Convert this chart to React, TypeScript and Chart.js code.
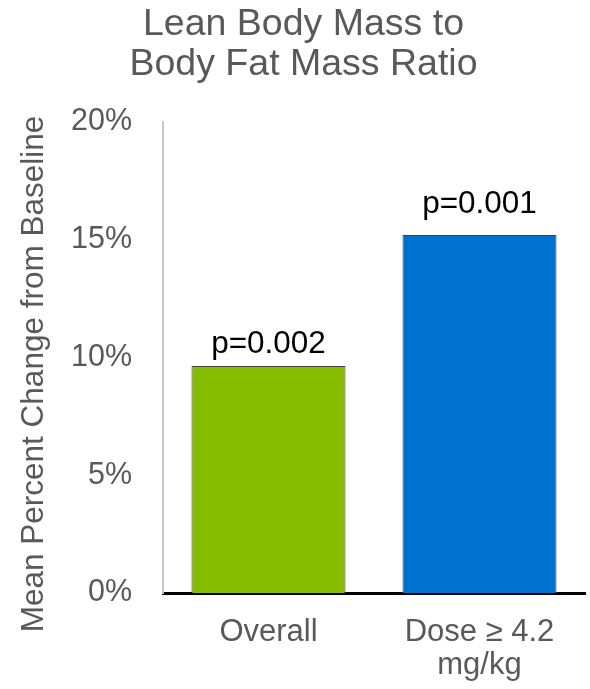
import React, { useEffect, useRef } from "react";
import { Chart, registerables } from "chart.js";

Chart.register(...registerables);

const categories: (string | string[])[] = ["Overall", ["Dose \u2265 4.2", "mg/kg"]];
const values: number[] = [9.64, 15.2];
const pLabels: string[] = ["p=0.002", "p=0.001"];
const barColors: string[] = ["#86bc00", "#0071ce"];
const titleLines: string[] = ["Lean Body Mass to", "Body Fat Mass Ratio"];
const yAxisTitle = "Mean Percent Change from Baseline";

const FONT = "'Liberation Sans', Arial, sans-serif";
const GRAY = "#595959";

const pLabelPlugin = {
  id: "pLabels",
  afterDatasetsDraw(chart: any, _args: any, opts: any) {
    const { ctx } = chart;
    const meta = chart.getDatasetMeta(0);
    ctx.save();
    ctx.font = `31.5px ${FONT}`;
    ctx.fillStyle = "#000000";
    ctx.textAlign = "center";
    ctx.textBaseline = "alphabetic";
    meta.data.forEach((bar: any, i: number) => {
      const off = (opts.offsets && opts.offsets[i]) || 14;
      ctx.fillText(pLabels[i], bar.x, bar.y - off);
    });
    ctx.restore();
  },
};

const yTitlePlugin = {
  id: "yTitle",
  afterDraw(chart: any, _args: any, opts: any) {
    const { ctx } = chart;
    ctx.save();
    ctx.translate(opts.x, opts.y);
    ctx.rotate(-Math.PI / 2);
    ctx.font = `31.5px ${FONT}`;
    ctx.fillStyle = GRAY;
    ctx.textAlign = "center";
    ctx.textBaseline = "middle";
    ctx.fillText(yAxisTitle, 0, 0);
    ctx.restore();
  },
};

export default function App() {
  const ref = useRef<HTMLCanvasElement | null>(null);

  useEffect(() => {
    if (!ref.current) return;
    const chart = new Chart(ref.current, {
      type: "bar",
      data: {
        labels: categories as any,
        datasets: [
          {
            data: values,
            backgroundColor: barColors,
            borderColor: "#404040",
            borderWidth: 1,
            categoryPercentage: 1,
            barPercentage: 0.73,
          },
        ],
      },
      plugins: [pLabelPlugin, yTitlePlugin],
      options: {
        responsive: false,
        animation: false,
        layout: { padding: { left: 22, right: 5, top: 0, bottom: 0 } },
        plugins: {
          legend: { display: false },
          tooltip: { enabled: false },
          title: {
            display: true,
            text: titleLines,
            color: GRAY,
            font: { family: FONT, size: 37.5, weight: "normal", lineHeight: 1.067 },
            padding: { top: 4.3, bottom: 37.7 },
          },
          pLabels: { offsets: [13, 22] },
          yTitle: { x: 34, y: 374 },
        } as any,
        scales: {
          x: {
            grid: { display: false, drawTicks: false },
            border: { display: true, color: "#000000", width: 3 },
            ticks: {
              color: GRAY,
              font: { family: FONT, size: 31, lineHeight: 1.065 },
              padding: 22.8,
              maxRotation: 0,
              autoSkip: false,
            },
            afterFit(scale: any) {
              scale.height = 96;
            },
          },
          y: {
            min: 0,
            max: 20,
            grid: { display: false, drawTicks: false },
            border: { display: true, color: "#c8c8c8", width: 2 },
            ticks: {
              stepSize: 5,
              color: GRAY,
              font: { family: FONT, size: 30.5 },
              padding: 31,
              callback: (v: any) => `${v}%`,
            },
            afterFit(scale: any) {
              scale.width = 141;
            },
          },
        },
      },
    });
    return () => chart.destroy();
  }, []);

  return (
    <div style={{ position: "absolute", left: 0, top: 0, width: 590, height: 689, background: "#ffffff" }}>
      <canvas ref={ref} width={590} height={689} />
    </div>
  );
}
